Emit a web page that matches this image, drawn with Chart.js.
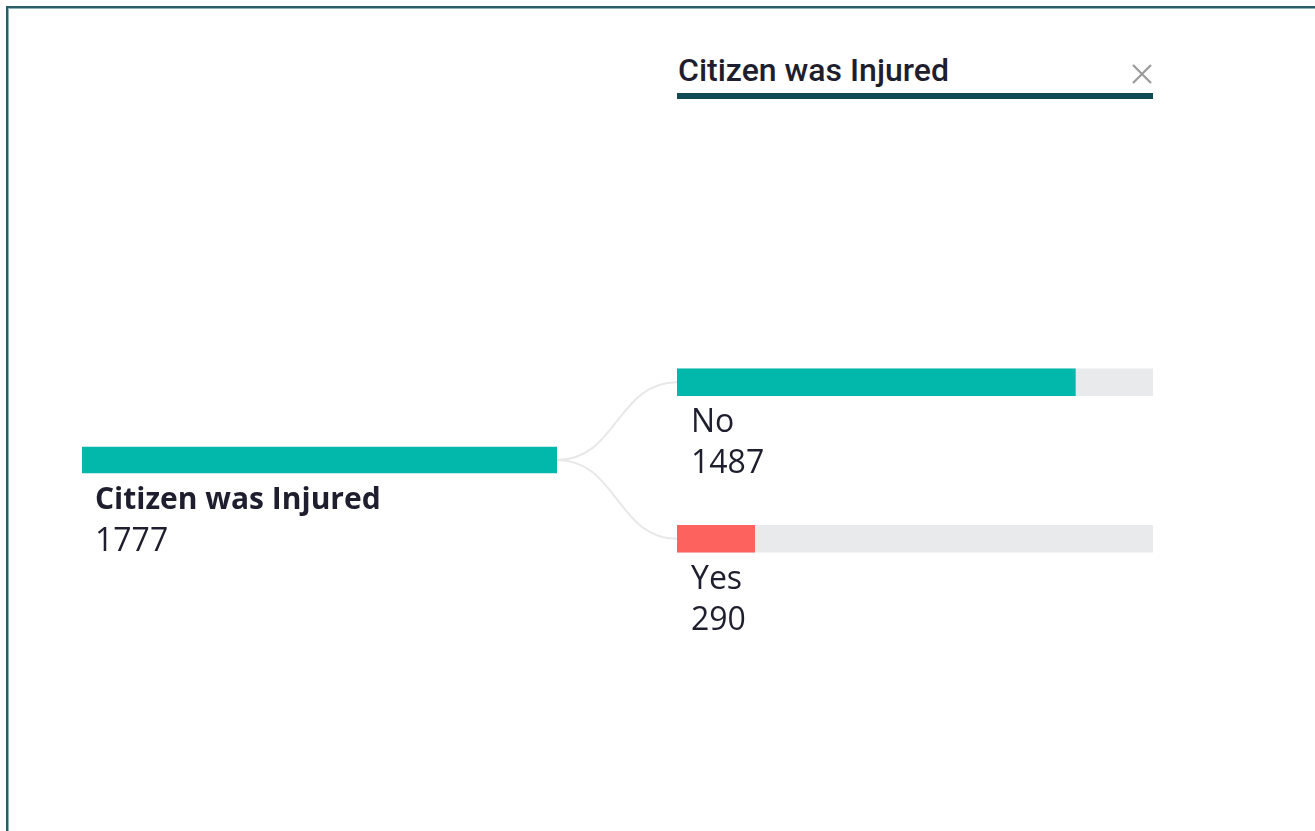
<!DOCTYPE html>
<html>
<head>
<meta charset="utf-8">
<script src="https://cdn.jsdelivr.net/npm/chart.js@4.4.0/dist/chart.umd.min.js"></script>
<style>
  body { margin: 0; background: #fff; width: 1315px; height: 831px; overflow: hidden; position: relative; }
  #frame { position: absolute; left: 6px; top: 6px; width: 1320px; height: 840px;
           border-left: 2px solid #2b5d68; border-top: 2px solid #2b5d68;
           box-shadow: inset 1px 1px 0 #8fb2b8; }
  canvas { position: absolute; left: 0; top: 0; }
  #hdr { position: absolute; left: 677px; top: 51px; width: 476px; height: 42px;
         font-family: Roboto, sans-serif; font-size: 32px; font-weight: 500; color: #1e1e2e; line-height: 38px;
         border-bottom: 6px solid #0f4b55; }
  #hdr span { padding-left: 1px; }
  #close { position: absolute; right: 0; top: 12px; }
</style>
</head>
<body>
<div id="frame"></div>
<div id="hdr"><span id="hdrText"></span>
  <svg id="close" width="22" height="22" viewBox="0 0 22 22">
    <path d="M2 2 L20 20 M20 2 L2 20" stroke="#9a9a9a" stroke-width="2.2" fill="none"/>
  </svg>
</div>
<canvas id="rootChart" width="1315" height="831"></canvas>
<canvas id="childChart" width="1315" height="831"></canvas>
<script>
// decomposition tree data
const rootLabel = "Citizen was Injured";
const rootTotal = [1777];
const childLabels = ["No", "Yes"];
const childValues = [1487, 290];
const childColors = ["#01B8AA", "#FD625E"];

document.getElementById('hdrText').textContent = rootLabel;

const labelFont = "32px 'Open Sans', sans-serif";
const textColor = "#1e1e2e";

const rootChart = new Chart(document.getElementById('rootChart').getContext('2d'), {
    type: 'bar',
    data: {
        labels: [rootLabel],
        datasets: [{
            data: rootTotal,
            backgroundColor: "#01B8AA",
            barThickness: 26,
        }]
    },
    options: {
        indexAxis: 'y',
        responsive: false,
        animation: false,
        events: [],
        layout: { padding: { left: 82, right: 758, top: 382, bottom: 293 } },
        plugins: { legend: { display: false }, tooltip: { enabled: false } },
        scales: {
            x: { display: false, min: 0, max: rootTotal[0] },
            y: { display: false }
        }
    },
    plugins: [{
        id: 'rootText',
        afterDatasetsDraw(chart) {
            const ctx = chart.ctx;
            const bar = chart.getDatasetMeta(0).data[0];
            const x = chart.chartArea.left + 13;
            ctx.save();
            ctx.fillStyle = textColor;
            ctx.textBaseline = 'alphabetic';
            ctx.font = "bold 30px 'Open Sans', sans-serif";
            ctx.fillText(chart.data.labels[0], x, bar.y + 49);
            ctx.font = labelFont;
            ctx.fillText(String(chart.data.datasets[0].data[0]), x, bar.y + 91);
            ctx.restore();
        }
    }]
});

new Chart(document.getElementById('childChart').getContext('2d'), {
    type: 'bar',
    data: {
        labels: childLabels,
        datasets: [
            {
                data: childValues,
                backgroundColor: childColors,
                barThickness: 27,
                grouped: false,
                order: 1,
            },
            {
                data: childLabels.map(() => rootTotal[0]),
                backgroundColor: "#E9EAEB",
                barThickness: 27,
                grouped: false,
                order: 2,
            }
        ]
    },
    options: {
        indexAxis: 'y',
        responsive: false,
        animation: false,
        events: [],
        layout: { padding: { left: 677, right: 162, top: 304, bottom: 214 } },
        plugins: { legend: { display: false }, tooltip: { enabled: false } },
        scales: {
            x: { display: false, min: 0, max: rootTotal[0] },
            y: { display: false }
        }
    },
    plugins: [{
        id: 'links',
        beforeDatasetsDraw(chart) {
            const ctx = chart.ctx;
            const rb = rootChart.getDatasetMeta(0).data[0];
            const x0 = rb.x, y0 = rb.y;
            const x1 = chart.chartArea.left;
            const mx = (x0 + x1) / 2;
            ctx.save();
            ctx.strokeStyle = "#e8e8e8";
            ctx.lineWidth = 2;
            chart.getDatasetMeta(0).data.forEach(b => {
                ctx.beginPath();
                ctx.moveTo(x0, y0);
                ctx.bezierCurveTo(mx, y0, mx, b.y, x1, b.y);
                ctx.stroke();
            });
            ctx.restore();
        },
        afterDatasetsDraw(chart) {
            const ctx = chart.ctx;
            const x = chart.chartArea.left + 14;
            ctx.save();
            ctx.fillStyle = textColor;
            ctx.font = labelFont;
            ctx.textBaseline = 'alphabetic';
            chart.getDatasetMeta(0).data.forEach((b, i) => {
                ctx.fillText(chart.data.labels[i], x, b.y + 50);
                ctx.fillText(String(childValues[i]), x, b.y + 91);
            });
            ctx.restore();
        }
    }]
});
</script>
</body>
</html>
